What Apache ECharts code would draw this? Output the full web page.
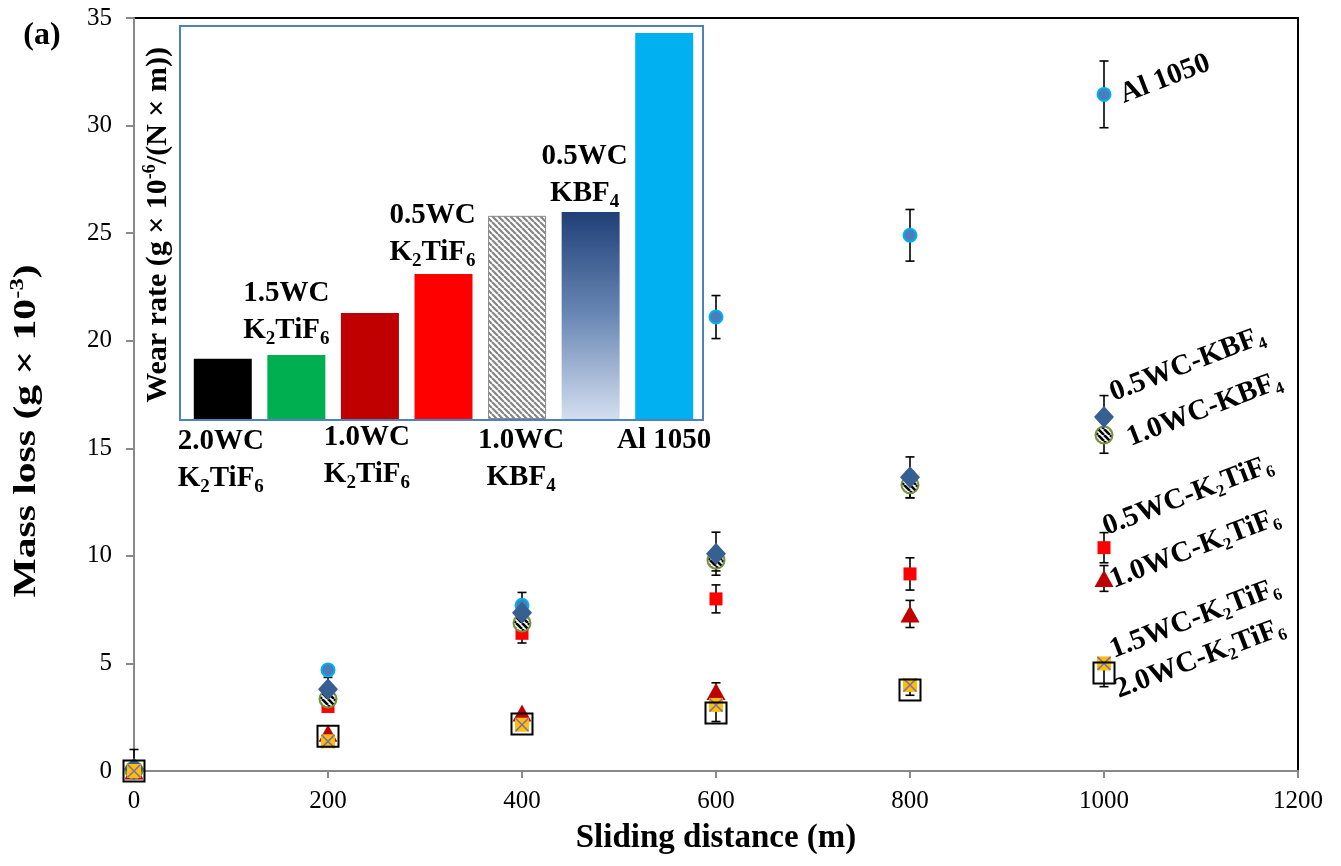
<!DOCTYPE html>
<html><head><meta charset="utf-8">
<script src="https://cdn.jsdelivr.net/npm/echarts@6/dist/echarts.min.js"></script>
<style>html,body{margin:0;padding:0;background:#fff}#c{width:1341px;height:866px}</style>
</head><body><div id="c"></div>
<script>
// ---------- DATA ----------
const distances   = [0, 200, 400, 600, 800, 1000];
const al1050      = [0.05, 4.7, 7.7, 21.1, 24.9, 31.45];
const al1050Err   = [0.95, 0, 0.6, 1.0, 1.2, 1.55];
const wc05KBF4    = [0.1, 3.8, 7.35, 10.1, 13.65, 16.45];
const wc05KBF4Err = [0, 0.55, 0.5, 1.0, 0.95, 1.0];
const wc10KBF4    = [0.05, 3.35, 6.88, 9.8, 13.3, 15.62];
const wc10KBF4Err = [0, 0, 0.4, 0.5, 0.6, 0.85];
const wc05K2      = [0, 3.0, 6.4, 8.0, 9.16, 10.38];
const wc05K2Err   = [0, 0, 0.45, 0.65, 0.75, 0.7];
const wc10K2      = [0, 1.75, 2.7, 3.7, 7.3, 8.95];
const wc10K2Err   = [0, 0, 0, 0.4, 0.63, 0.6];
const wc15K2      = [0, 1.38, 2.15, 3.07, 4.0, 5.0];
const wc20K2      = [0, 1.62, 2.18, 2.7, 3.77, 4.55];
const wc20K2Err   = [0, 0, 0, 0.4, 0.25, 0.63];
const xTicks = [0, 200, 400, 600, 800, 1000, 1200];
const yTicks = [0, 5, 10, 15, 20, 25, 30, 35];

// inset bar chart (wear rate, relative units)
const wearCats  = ['2.0WC K2TiF6', '1.5WC K2TiF6', '1.0WC K2TiF6', '0.5WC K2TiF6', '1.0WC KBF4', '0.5WC KBF4', 'Al 1050'];
const wearRate  = [1.53, 1.63, 2.70, 3.69, 5.17, 5.27, 9.82];
const wearLabel = ['{b|2.0WC}\n{b|K}{s|2}{b|TiF}{s|6}', '{b|1.5WC}\n{b|K}{s|2}{b|TiF}{s|6}',
                   '{b|1.0WC}\n{b|K}{s|2}{b|TiF}{s|6}', '{b|0.5WC}\n{b|K}{s|2}{b|TiF}{s|6}',
                   '{b|1.0WC}\n{b|KBF}{s|4}', '{b|0.5WC}\n{b|KBF}{s|4}', '{b|Al 1050}'];

// ---------- STYLES ----------
const FONT = '"Liberation Serif", "Times New Roman", serif';
function stripes(size, lw, fg, bg) {
  const c = document.createElement('canvas'); c.width = size; c.height = size;
  const g = c.getContext('2d'); g.fillStyle = bg; g.fillRect(0, 0, size, size);
  g.strokeStyle = fg; g.lineWidth = lw; g.beginPath();
  for (const o of [-size, 0, size]) { g.moveTo(o, 0); g.lineTo(o + size, size); }
  g.stroke(); return c;
}
const HATCH_SYM = 17;
const grayHatch  = { image: stripes(6, 2.2, '#858585', '#ffffff'), repeat: 'repeat' };
// scatter symbols are drawn at unit size and scaled by symbolSize/2, so the pattern is scaled back
const blackHatch = { image: stripes(6, 2.6, '#000000', '#ffffff'), repeat: 'repeat',
                     scaleX: 2 / HATCH_SYM, scaleY: 2 / HATCH_SYM };
const navyGrad = new echarts.graphic.LinearGradient(0, 0, 0, 1, [
  { offset: 0, color: '#1F3F77' }, { offset: 0.5, color: '#6A88B5' }, { offset: 1, color: '#D3DEEF' }]);
const barStyles = [
  { color: '#000000' }, { color: '#00B050' }, { color: '#C00000' }, { color: '#FF0000' },
  { color: grayHatch, borderColor: '#8a8a8a', borderWidth: 1 }, { color: navyGrad }, { color: '#00B0F0' }];
const barLabelPos = [
  { position: 'bottom', distance: 4, offset: [-2, 0] }, { position: 'top', distance: 6, offset: [-10, 0] },
  { position: 'bottom', distance: 0, offset: [-3, 0] }, { position: 'top', distance: 3, offset: [-11, 0] },
  { position: 'bottom', distance: 3, offset: [4, 0] }, { position: 'top', distance: 0, offset: [-6, 0] },
  { position: 'bottom', distance: 3, offset: [0, 0] }];

const richLbl = {
  b: { fontFamily: FONT, fontWeight: 'bold', fontSize: 29, lineHeight: 37, color: '#000' },
  s: { fontFamily: FONT, fontWeight: 'bold', fontSize: 19, lineHeight: 21, verticalAlign: 'bottom', color: '#000' }
};

const pts = arr => distances.map((d, i) => [d, arr[i]]);
const errData = [];
[[al1050, al1050Err], [wc05KBF4, wc05KBF4Err], [wc10KBF4, wc10KBF4Err], [wc05K2, wc05K2Err],
 [wc10K2, wc10K2Err], [wc20K2, wc20K2Err]].forEach(([v, e]) => {
  distances.forEach((d, i) => { if (e[i] > 0) errData.push([d, v[i], e[i]]); });
});

function errRender(params, api) {
  const x = api.value(0), y = api.value(1), e = api.value(2);
  const lo = Math.max(0, y - e);
  const c = api.coord([x, y]), t = api.coord([x, y + e]), b = api.coord([x, lo]);
  const w = 4.5, st = { stroke: '#000', lineWidth: 1.6 };
  const ch = [
    { type: 'line', shape: { x1: c[0], y1: t[1], x2: c[0], y2: b[1] }, style: st },
    { type: 'line', shape: { x1: c[0] - w, y1: t[1], x2: c[0] + w, y2: t[1] }, style: st }];
  if (y - e > 0) ch.push({ type: 'line', shape: { x1: c[0] - w, y1: b[1], x2: c[0] + w, y2: b[1] }, style: st });
  return { type: 'group', children: ch };
}

function txt(text, x, y, rot, size, opts) {
  opts = opts || {};
  return {
    type: 'text', x: x, y: y, rotation: rot, z: 100, scaleX: opts.sx || 1,
    style: {
      text: text, align: opts.align || 'left', verticalAlign: 'middle', fill: '#000',
      font: 'bold ' + size + 'px ' + FONT,
      rich: {
        b: { fontFamily: FONT, fontWeight: 'bold', fontSize: size, lineHeight: size + 4, fill: '#000' },
        s: { fontFamily: FONT, fontWeight: 'bold', fontSize: Math.round(size * 0.6), lineHeight: Math.round(size * 0.75), verticalAlign: 'bottom', fill: '#000' },
        u: { fontFamily: FONT, fontWeight: 'bold', fontSize: Math.round(size * 0.6), lineHeight: Math.round(size * 0.45), verticalAlign: 'top', fill: '#000' }
      }
    }
  };
}
const R = 21 * Math.PI / 180;

const chart = echarts.init(document.getElementById('c'), null, { renderer: 'canvas' });
chart.setOption({
  animation: false,
  backgroundColor: '#fff',
  grid: [
    { left: 134, right: 43, top: 18, bottom: 95, show: true, borderColor: '#000', borderWidth: 2, backgroundColor: 'transparent' },
    { left: 186, right: 640, top: 26, bottom: 447 }
  ],
  xAxis: [
    { type: 'value', gridIndex: 0, min: xTicks[0], max: xTicks[xTicks.length - 1], interval: 200,
      axisLine: { show: true, lineStyle: { color: '#898989', width: 2 } },
      axisTick: { show: true, length: 7, lineStyle: { color: '#898989', width: 2 } },
      axisLabel: { fontFamily: FONT, fontSize: 25, color: '#000', margin: 18, formatter: v => String(v) },
      splitLine: { show: false },
      name: 'Sliding distance (m)', nameLocation: 'middle', nameGap: 51,
      nameTextStyle: { fontFamily: FONT, fontWeight: 'bold', fontSize: 33, color: '#000' } },
    { type: 'category', gridIndex: 1, data: wearCats, show: false }
  ],
  yAxis: [
    { type: 'value', gridIndex: 0, min: yTicks[0], max: yTicks[yTicks.length - 1], interval: 5,
      axisLine: { show: true, lineStyle: { color: '#898989', width: 2 } },
      axisTick: { show: true, length: 8, lineStyle: { color: '#898989', width: 2 } },
      axisLabel: { fontFamily: FONT, fontSize: 25, color: '#000', margin: 22, formatter: v => String(v) },
      splitLine: { show: false } },
    { type: 'value', gridIndex: 1, min: 0, max: 10, show: false }
  ],
  graphic: [
    { type: 'rect', z: 1, shape: { x: 180, y: 26, width: 523, height: 394 },
      style: { fill: '#fff', stroke: '#4F81BD', lineWidth: 2 } },
    txt('(a)', 42, 36, 0, 32, { align: 'center' }),
    txt('{b|Mass loss (g × 10}{u|-3}{b|)}', 27, 431, Math.PI / 2, 32, { align: 'center', sx: 1.3 }),
    txt('{b|Wear rate (g × 10}{u|-6}{b|/(N × m))}', 158, 225, Math.PI / 2, 30, { align: 'center' }),
    txt('{b|Al 1050}', 1121, 96, R, 29),
    txt('{b|0.5WC-KBF}{s|4}', 1111, 394, R, 29),
    txt('{b|1.0WC-KBF}{s|4}', 1128, 439, R, 29),
    txt('{b|0.5WC-K}{s|2}{b|TiF}{s|6}', 1104, 528, R, 29),
    txt('{b|1.0WC-K}{s|2}{b|TiF}{s|6}', 1111, 581, R, 29),
    txt('{b|1.5WC-K}{s|2}{b|TiF}{s|6}', 1111, 651, R, 29),
    txt('{b|2.0WC-K}{s|2}{b|TiF}{s|6}', 1116, 691, R, 29)
  ],
  series: [
    { type: 'bar', xAxisIndex: 1, yAxisIndex: 1, barWidth: 58, z: 2,
      data: wearRate.map((v, i) => ({
        value: v, itemStyle: barStyles[i],
        label: Object.assign({ show: true, formatter: wearLabel[i], rich: richLbl, align: 'center' }, barLabelPos[i])
      })) },
    { type: 'custom', xAxisIndex: 0, yAxisIndex: 0, z: 2, renderItem: errRender, data: errData, silent: true },
    { name: 'Al 1050', type: 'scatter', z: 3, data: pts(al1050), symbol: 'circle', symbolSize: 13,
      itemStyle: { color: '#4A7EBB', borderColor: '#00B0F0', borderWidth: 2, opacity: 1 } },
    { name: '0.5WC-K2TiF6', type: 'scatter', z: 3, data: pts(wc05K2), symbol: 'rect', symbolSize: 13,
      itemStyle: { color: '#FF0000', opacity: 1 } },
    { name: '1.0WC-K2TiF6', type: 'scatter', z: 3, data: pts(wc10K2), symbol: 'triangle', symbolSize: [19, 17],
      itemStyle: { color: '#C00000', opacity: 1 } },
    { name: '1.0WC-KBF4', type: 'scatter', z: 3, data: pts(wc10KBF4), symbol: 'circle', symbolSize: HATCH_SYM,
      itemStyle: { color: blackHatch, borderColor: '#77933C', borderWidth: 2, opacity: 1 } },
    { name: '0.5WC-KBF4', type: 'scatter', z: 3, data: pts(wc05KBF4), symbol: 'diamond', symbolSize: [20, 22],
      itemStyle: { color: '#376092', opacity: 1 } },
    { name: '1.5WC-K2TiF6', type: 'scatter', z: 3, data: pts(wc15K2), symbol: 'rect', symbolSize: 14,
      itemStyle: { color: '#FFC000', opacity: 1 } },
    { name: '1.5WC-K2TiF6 x', type: 'scatter', z: 3, data: pts(wc15K2), symbol: 'path://M0,0L10,10M10,0L0,10', symbolSize: 13,
      itemStyle: { color: 'none', borderColor: '#7F6FB0', borderWidth: 1.6, opacity: 1 } },
    { name: '2.0WC-K2TiF6', type: 'scatter', z: 3, data: pts(wc20K2), symbol: 'rect', symbolSize: 21,
      itemStyle: { color: 'rgba(0,0,0,0)', borderColor: '#000', borderWidth: 2, opacity: 1 } }
  ]
});
</script></body></html>
